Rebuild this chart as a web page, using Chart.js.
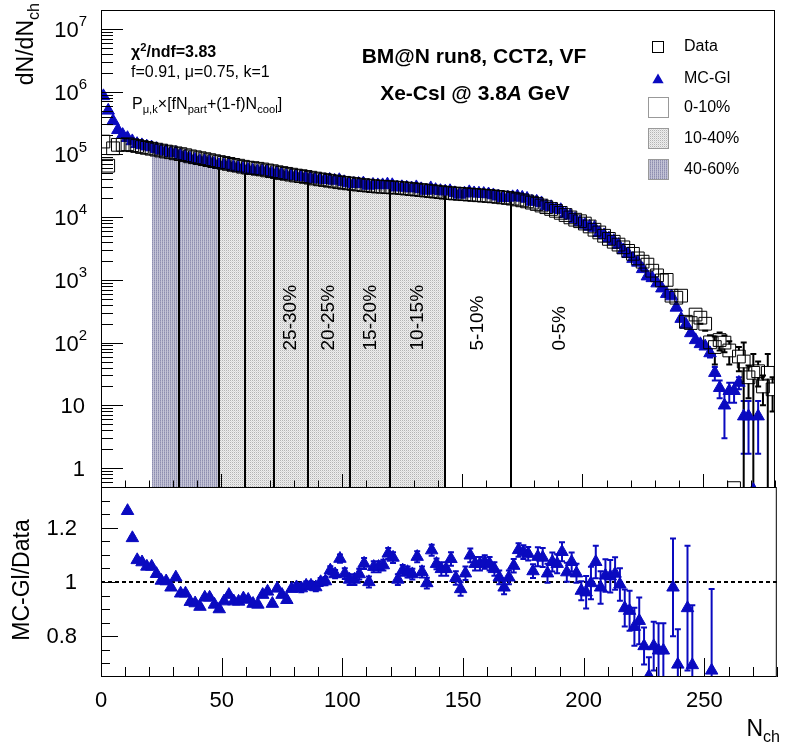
<!DOCTYPE html>
<html>
<head>
<meta charset="utf-8">
<script src="https://cdn.jsdelivr.net/npm/chart.js@4.4.1/dist/chart.umd.min.js"></script>
<style>
  body { margin: 0; background: #fff; }
  #wrap { position: relative; width: 785px; height: 744px; background: #fff; font-family: "Liberation Sans", Arial, Helvetica, sans-serif; overflow: hidden; }
  #wrap canvas { position: absolute; left: 0; top: 0; }
  .t { position: absolute; white-space: nowrap; line-height: 1; color: #000; }
  .t sub, .t sup { font-size: 70%; line-height: 0; }
  .rot { transform-origin: 0 0; transform: rotate(-90deg); }
</style>
</head>
<body>
<div id="wrap">
  <canvas id="main" width="785" height="744"></canvas>
  <canvas id="ratio" width="785" height="744"></canvas>

  <div class="t rot" style="font-size:23px; left:14px; top:155px; width:152px; text-align:right;">dN/dN<sub>ch</sub></div>
  <div class="t rot" style="font-size:23px; left:10px; top:680px; width:200px; text-align:center;">MC-Gl/Data</div>
  <div class="t" style="font-size:23px; right:5px; top:717px;">N<sub>ch</sub></div>

  <div class="t" style="font-size:21px; font-weight:bold; left:274px; width:400px; text-align:center; top:45px;">BM@N run8, CCT2, VF</div>
  <div class="t" style="font-size:21px; font-weight:bold; left:275px; width:400px; text-align:center; top:82px;">Xe-CsI @ 3.8<i>A</i> GeV</div>

  <div class="t" style="font-size:16px; font-weight:bold; left:131px; top:44px;">&chi;<sup>2</sup>/ndf=3.83</div>
  <div class="t" style="font-size:16px; left:131px; top:64px;">f=0.91, &mu;=0.75, k=1</div>
  <div class="t" style="font-size:16px; left:132px; top:96px;">P<sub>&mu;,k</sub>&times;[fN<sub>part</sub>+(1-f)N<sub>cool</sub>]</div>
</div>
<script>
// bin centres of N_ch (bin width 2)
const nch = [
  1, 3, 5, 7, 9, 11, 13, 15, 17, 19, 21, 23, 25, 27, 29, 31, 33, 35, 37, 39,
  41, 43, 45, 47, 49, 51, 53, 55, 57, 59, 61, 63, 65, 67, 69, 71, 73, 75, 77, 79,
  81, 83, 85, 87, 89, 91, 93, 95, 97, 99, 101, 103, 105, 107, 109, 111, 113, 115, 117, 119,
  121, 123, 125, 127, 129, 131, 133, 135, 137, 139, 141, 143, 145, 147, 149, 151, 153, 155, 157, 159,
  161, 163, 165, 167, 169, 171, 173, 175, 177, 179, 181, 183, 185, 187, 189, 191, 193, 195, 197, 199,
  201, 203, 205, 207, 209, 211, 213, 215, 217, 219, 221, 223, 225, 227, 229, 231, 233, 235, 237, 239,
  241, 243, 245, 247, 249, 251, 253, 255, 257, 259, 261, 263, 265, 267, 269, 271, 273, 275, 277, 279
];

// dN/dN_ch, experimental data
const dataVals = [
  160000, 66000, 125000, 142000, 142000, 145000, 140000, 136000, 131000, 127000,
  123000, 119000, 115000, 111000, 108000, 104000, 101000, 97000, 93000, 90000,
  87000, 84000, 81000, 78000, 75500, 73000, 70500, 68000, 66000, 63500,
  61500, 60500, 59000, 57500, 55500, 54000, 52000, 50500, 49000, 47500,
  46000, 45000, 43700, 42500, 41200, 40000, 39000, 38000, 37000, 36000,
  35200, 34500, 33700, 33000, 32400, 31800, 31200, 30700, 30500, 30100,
  29800, 29500, 29000, 28500, 28000, 27500, 27000, 26500, 26000, 25500,
  25000, 24500, 24100, 23800, 23500, 23200, 22900, 22600, 22300, 22000,
  21700, 21400, 21000, 20600, 20200, 19700, 19100, 18500, 17800, 17000,
  16200, 15300, 14400, 13500, 12600, 11700, 10800, 9900, 9100, 8600,
  7900, 7100, 6300, 5700, 5050, 4500, 4050, 3650, 3300, 2900,
  2600, 2200, 1950, 1750, 1400, 1180, 980, 1000, 560, 520,
  560, 215, 205, 280, 250, 200, 101, 85, 110, 100,
  75, 0.48, 60, 50, 28, 33, 35, 20, 33, 18
];
const dataErr = [
  0, 0, 0, 0, 0, 0, 0, 0, 0, 0, 0, 0, 0, 0, 0, 0, 0, 0, 0, 0,
  0, 0, 0, 0, 0, 0, 0, 0, 0, 0, 0, 0, 0, 0, 0, 0, 0, 0, 0, 0,
  0, 0, 0, 0, 0, 0, 0, 0, 0, 0, 0, 0, 0, 0, 0, 0, 0, 0, 0, 0,
  0, 0, 0, 0, 0, 0, 0, 0, 0, 0, 0, 0, 0, 0, 0, 0, 0, 0, 0, 0,
  0, 0, 0, 0, 0, 0, 0, 0, 0, 0, 0, 0, 0, 0, 0, 0, 0, 0, 0, 0,
  0, 0, 0, 0, 0, 0, 0, 0, 0, 0, 0, 0, 0, 0, 60, 60, 60, 70, 60, 60,
  70, 40, 40, 50, 50, 45, 30, 40, 35, 30, 30, 0, 25, 50, 15, 33, 15, 10, 33, 10
];

// dN/dN_ch, MC-Glauber
const mcVals = [
  850000, 500000, 340000, 245000, 205000, 183000, 162700, 147000, 140600, 134200,
  130000, 122600, 115600, 111300, 105800, 105800, 96800, 92900, 86200, 83000,
  79100, 79200, 76400, 71500, 68000, 67800, 67200, 63200, 61200, 59700,
  57500, 55700, 54100, 54800, 53600, 49700, 50800, 48100, 45800, 46300,
  45100, 44000, 43100, 41900, 40400, 40000, 39100, 39600, 38100, 39100,
  36300, 34800, 34000, 34000, 34600, 31800, 32900, 32400, 32400, 33300,
  32500, 29800, 30200, 29600, 28800, 30100, 28000, 26400, 29000, 27200,
  26200, 25700, 26100, 24200, 22900, 23900, 25100, 24100, 23800, 23600,
  23200, 22400, 21400, 20200, 20500, 20900, 21400, 20500, 19700, 17700,
  17700, 16700, 14900, 14500, 13400, 13000, 11200, 10600, 9390, 8320,
  7600, 7070, 6770, 5590, 5170, 4590, 4180, 3620, 2980, 2590,
  2170, 1890, 1490, 1140, 1070, 883, 733, 600, 549, 362,
  240, 194, 142, 110, 95, 87, 68, 33, 19, 10,
  17, 17, 23, 6.7, 6.7, 0.45, 6.7, null, null, null
];
const mcErr = [
  0, 0, 0, 0, 0, 0, 0, 0, 0, 0, 0, 0, 0, 0, 0, 0, 0, 0, 0, 0,
  0, 0, 0, 0, 0, 0, 0, 0, 0, 0, 0, 0, 0, 0, 0, 0, 0, 0, 0, 0,
  0, 0, 0, 0, 0, 0, 0, 0, 0, 0, 0, 0, 0, 0, 0, 0, 0, 0, 0, 0,
  0, 0, 0, 0, 0, 0, 0, 0, 0, 0, 0, 0, 0, 0, 0, 0, 0, 0, 0, 0,
  0, 0, 0, 0, 0, 0, 0, 0, 0, 0, 0, 0, 0, 0, 0, 0, 0, 0, 0, 0,
  0, 0, 0, 0, 0, 0, 0, 0, 0, 0, 0, 0, 0, 0, 0, 0, 0, 0, 0, 0,
  0, 0, 0, 0, 0, 0, 10, 8, 6, 7, 6, 6, 5, 5, 5, 0, 5, 0, 0, 0
];

// MC-Gl / Data ratio (null = outside the pad)
const ratioVals = [
  null, null, null, null, null, 1.262, 1.162, 1.081, 1.073, 1.057,
  1.057, 1.030, 1.005, 1.003, 0.980, 1.017, 0.958, 0.958, 0.927, 0.922,
  0.909, 0.943, 0.943, 0.917, 0.900, 0.929, 0.953, 0.929, 0.928, 0.940,
  0.935, 0.920, 0.917, 0.953, 0.965, 0.920, 0.976, 0.953, 0.934, 0.975,
  0.981, 0.977, 0.987, 0.987, 0.981, 1.000, 1.003, 1.043, 1.029, 1.086,
  1.031, 1.009, 1.009, 1.029, 1.068, 1.000, 1.056, 1.056, 1.062, 1.105,
  1.090, 1.009, 1.043, 1.037, 1.029, 1.093, 1.037, 0.996, 1.117, 1.067,
  1.048, 1.048, 1.085, 1.015, 0.974, 1.032, 1.098, 1.067, 1.067, 1.074,
  1.067, 1.048, 1.017, 0.980, 1.017, 1.060, 1.118, 1.110, 1.104, 1.040,
  1.093, 1.090, 1.032, 1.074, 1.067, 1.111, 1.036, 1.074, 1.032, 0.968,
  0.962, 0.996, 1.074, 0.980, 1.024, 1.021, 1.031, 0.991, 0.904, 0.894,
  0.835, 0.857, 0.764, 0.653, 0.764, 0.748, 0.748, null, 0.980, 0.696,
  null, 0.904, 0.694, null, null, null, 0.674, null, null, null,
  null, null, null, null, null, null, null, null, null, null
];
const ratioErr = [
  0, 0, 0, 0, 0, 0.006, 0.006, 0.006, 0.006, 0.006,
  0.006, 0.006, 0.006, 0.006, 0.006, 0.006, 0.006, 0.006, 0.006, 0.006,
  0.006, 0.006, 0.006, 0.006, 0.006, 0.006, 0.006, 0.006, 0.006, 0.006,
  0.006, 0.006, 0.006, 0.006, 0.006, 0.006, 0.006, 0.006, 0.006, 0.006,
  0.015, 0.015, 0.015, 0.015, 0.015, 0.015, 0.015, 0.015, 0.015, 0.015,
  0.02, 0.02, 0.02, 0.02, 0.02, 0.02, 0.02, 0.02, 0.02, 0.02,
  0.02, 0.02, 0.02, 0.02, 0.02, 0.02, 0.02, 0.02, 0.02, 0.02,
  0.025, 0.025, 0.025, 0.025, 0.025, 0.025, 0.025, 0.025, 0.025, 0.025,
  0.025, 0.025, 0.025, 0.025, 0.025, 0.025, 0.025, 0.025, 0.025, 0.025,
  0.035, 0.035, 0.035, 0.035, 0.035, 0.035, 0.035, 0.035, 0.035, 0.035,
  0.06, 0.06, 0.06, 0.06, 0.06, 0.06, 0.06, 0.06, 0.068, 0.074,
  0.07, 0.086, 0.068, 0.07, 0.09, 0.1, 0.1, 0, 0.18, 0.13,
  0, 0.23, 0.22, 0, 0, 0, 0.3, 0, 0, 0,
  0, 0, 0, 0, 0, 0, 0, 0, 0, 0
];

// centrality classes
const classEdges = [32.6, 49, 60, 72, 86, 103.3, 120, 143, 170.2];
const classLabels = ['25-30%', '20-25%', '15-20%', '10-15%', '5-10%', '0-5%'];
const classLabelN = [79, 94.7, 112, 131.5, 156.7, 190.6];
const shade4060 = [21, 49];
const shade1040 = [49, 143];

// axis ticks
const xTicks = [0, 50, 100, 150, 200, 250];
const yDecades = [0, 1, 2, 3, 4, 5, 6, 7];
const ratioTicks = [0.8, 1, 1.2];

const FONT = '"Liberation Sans", Arial, Helvetica, sans-serif';
const BLUE = '#0a0ac0';
const TRI = 7.2;

const pts = vals => nch.map((x, i) => (vals[i] == null ? null : { x, y: vals[i] })).filter(Boolean);

function makePattern(ctx, cells) {
  const c = document.createElement('canvas');
  c.width = 2; c.height = 2;
  const g = c.getContext('2d');
  cells.forEach((col, k) => { g.fillStyle = col; g.fillRect(k % 2, Math.floor(k / 2), 1, 1); });
  return ctx.createPattern(c, 'repeat');
}

function drawErrors(chart, vals, errs, color, gap) {
  const { ctx, chartArea: a, scales: { x, y } } = chart;
  ctx.save();
  ctx.beginPath();
  ctx.rect(a.left, a.top, a.right - a.left, a.bottom - a.top);
  ctx.clip();
  ctx.strokeStyle = color;
  ctx.lineWidth = 2;
  ctx.beginPath();
  vals.forEach((v, i) => {
    const e = errs[i];
    if (v == null || !e) return;
    const px = x.getPixelForValue(nch[i]);
    const cy = y.getPixelForValue(v);
    const hi = y.getPixelForValue(v + e);
    const lo = (y.type !== 'logarithmic' || v - e > 0) ? y.getPixelForValue(v - e) : a.bottom + 5;
    if (hi < cy - gap) {
      ctx.moveTo(px, cy - gap); ctx.lineTo(px, hi);
      ctx.moveTo(px - 3, hi); ctx.lineTo(px + 3, hi);
    }
    if (lo > cy + gap) {
      ctx.moveTo(px, cy + gap); ctx.lineTo(px, lo);
      ctx.moveTo(px - 3, lo); ctx.lineTo(px + 3, lo);
    }
  });
  ctx.stroke();
  ctx.restore();
}

function triangle(ctx, cx, cy, r) {
  ctx.beginPath();
  ctx.moveTo(cx, cy - r);
  ctx.lineTo(cx + r * 0.866, cy + r / 2);
  ctx.lineTo(cx - r * 0.866, cy + r / 2);
  ctx.closePath();
  ctx.fill();
}

let dense, light;

// centrality bands, boundaries and labels under the markers
const shadingPlugin = {
  id: 'shading',
  beforeDatasetsDraw(chart) {
    const { ctx, chartArea: a, scales: { x, y } } = chart;
    dense = dense || makePattern(ctx, ['#8e8eb0', '#c4c4d6', '#a4a4c0', '#c4c4d6']);
    light = light || makePattern(ctx, ['#b4b4b4', '#eeeeee', '#eeeeee', '#dadada']);
    ctx.save();
    [[shade4060, dense], [shade1040, light]].forEach(([range, pat]) => {
      ctx.fillStyle = pat;
      mcVals.forEach((v, i) => {
        if (v == null) return;
        const lo = Math.max(nch[i] - 1, range[0]);
        const hi = Math.min(nch[i] + 1, range[1]);
        if (hi <= lo) return;
        const x0 = Math.round(x.getPixelForValue(lo));
        const x1 = Math.round(x.getPixelForValue(hi));
        const top = Math.round(y.getPixelForValue(v));
        ctx.fillRect(x0, top, x1 - x0, a.bottom - top);
      });
    });
    ctx.strokeStyle = '#000';
    ctx.lineWidth = 2;
    ctx.beginPath();
    classEdges.forEach(n => {
      const v = mcVals[Math.floor(n / 2)];
      const px = Math.round(x.getPixelForValue(n));
      ctx.moveTo(px, a.bottom);
      ctx.lineTo(px, y.getPixelForValue(v));
    });
    ctx.stroke();
    ctx.fillStyle = '#000';
    ctx.font = `19px ${FONT}`;
    ctx.textAlign = 'left';
    ctx.textBaseline = 'middle';
    classLabels.forEach((t, i) => {
      ctx.save();
      ctx.translate(x.getPixelForValue(classLabelN[i]), y.getPixelForValue(75));
      ctx.rotate(-Math.PI / 2);
      ctx.fillText(t, 0, 0);
      ctx.restore();
    });
    ctx.restore();
    drawErrors(chart, mcVals, mcErr, BLUE, 0);
    drawErrors(chart, dataVals, dataErr, '#000', 6);
  }
};

// frame, inward ticks, labels and legend of the upper pad
const mainAxesPlugin = {
  id: 'mainAxes',
  afterDraw(chart) {
    const { ctx, chartArea: a, scales: { x, y } } = chart;
    ctx.save();
    ctx.strokeStyle = '#000';
    ctx.lineWidth = 1;
    ctx.strokeRect(a.left + 0.5, a.top + 0.5, a.right - a.left - 1, a.bottom - a.top);
    ctx.beginPath();
    for (let v = 0; v <= 280; v += 10) {
      const px = Math.round(x.getPixelForValue(v)) + 0.5;
      ctx.moveTo(px, a.bottom);
      ctx.lineTo(px, a.bottom - (v % 50 === 0 ? 13 : 6.5));
    }
    for (let d = -1; d <= 7; d++) {
      for (let m = 1; m <= 9; m++) {
        const v = m * Math.pow(10, d);
        if (v < y.min || v > y.max) continue;
        const py = Math.round(y.getPixelForValue(v)) + 0.5;
        ctx.moveTo(a.left, py);
        ctx.lineTo(a.left + (m === 1 ? 22 : 12), py);
      }
    }
    ctx.stroke();

    ctx.fillStyle = '#000';
    ctx.textBaseline = 'middle';
    yDecades.forEach(k => {
      const py = y.getPixelForValue(Math.pow(10, k)) + 2;
      if (k < 2) {
        ctx.font = `22px ${FONT}`;
        ctx.textAlign = 'right';
        ctx.fillText(k === 0 ? '1' : '10', 85, py);
      } else {
        ctx.font = `15px ${FONT}`;
        const sw = ctx.measureText(String(k)).width;
        ctx.textAlign = 'left';
        ctx.fillText(String(k), 87 - sw, py - 9);
        ctx.font = `22px ${FONT}`;
        ctx.textAlign = 'right';
        ctx.fillText('10', 87 - sw, py);
      }
    });

    // legend
    ctx.font = `16px ${FONT}`;
    ctx.textAlign = 'left';
    ctx.strokeRect(652.5, 41.5, 11, 11);
    ctx.fillText('Data', 684, 47);
    ctx.fillStyle = BLUE;
    triangle(ctx, 658, 80, 6.5);
    ctx.fillStyle = '#000';
    ctx.fillText('MC-Gl', 684, 79);
    [[97, '0-10%', null], [128, '10-40%', light], [159, '40-60%', dense]].forEach(([top, label, pat]) => {
      if (pat) { ctx.fillStyle = pat; ctx.fillRect(648, top, 21, 21); }
      ctx.strokeStyle = '#999';
      ctx.strokeRect(648.5, top + 0.5, 20, 20);
      ctx.fillStyle = '#000';
      ctx.fillText(label, 684, top + 11);
    });
    ctx.restore();
  }
};

// lower pad: reference line, errors, frame, ticks, labels
const ratioPlugin = {
  id: 'ratioAxes',
  beforeDatasetsDraw(chart) {
    const { ctx, chartArea: a, scales: { y } } = chart;
    ctx.save();
    ctx.strokeStyle = '#000';
    ctx.lineWidth = 2;
    ctx.setLineDash([4, 3]);
    const py = Math.round(y.getPixelForValue(1));
    ctx.beginPath();
    ctx.moveTo(a.left, py);
    ctx.lineTo(a.right, py);
    ctx.stroke();
    ctx.restore();
    drawErrors(chart, ratioVals, ratioErr, BLUE, 0);
  },
  afterDraw(chart) {
    const { ctx, chartArea: a, scales: { x, y } } = chart;
    ctx.save();
    ctx.strokeStyle = '#000';
    ctx.lineWidth = 1;
    ctx.strokeRect(a.left + 0.5, a.top + 0.5, a.right - a.left - 1, a.bottom - a.top - 1);
    ctx.beginPath();
    for (let v = 0; v <= 280; v += 10) {
      const px = Math.round(x.getPixelForValue(v)) + 0.5;
      ctx.moveTo(px, a.bottom);
      ctx.lineTo(px, a.bottom - (v % 50 === 0 ? 19 : 10));
    }
    for (let k = 14; k <= 26; k++) {
      const v = k * 0.05;
      const py = Math.round(y.getPixelForValue(v)) + 0.5;
      ctx.moveTo(a.left, py);
      ctx.lineTo(a.left + (k % 4 === 0 ? 17 : 9), py);
    }
    ctx.stroke();
    ctx.fillStyle = '#000';
    ctx.font = `22px ${FONT}`;
    ctx.textBaseline = 'middle';
    ctx.textAlign = 'right';
    ratioTicks.forEach(v => ctx.fillText(String(v), 77, y.getPixelForValue(v) + 1));
    ctx.textAlign = 'center';
    xTicks.forEach(v => ctx.fillText(String(v), x.getPixelForValue(v), 701));
    ctx.restore();
  }
};

const common = {
  responsive: false,
  animation: false,
  devicePixelRatio: 1,
  events: [],
  plugins: { legend: { display: false }, tooltip: { enabled: false } }
};

new Chart(document.getElementById('main'), {
  type: 'scatter',
  data: {
    datasets: [
      { label: 'Data', data: pts(dataVals), pointStyle: 'rect', pointRadius: 9, borderColor: '#000', borderWidth: 1, backgroundColor: 'rgba(0,0,0,0)', clip: 0 },
      { label: 'MC-Gl', data: pts(mcVals), pointStyle: 'triangle', pointRadius: TRI, borderColor: BLUE, borderWidth: 1, backgroundColor: BLUE, clip: 0 }
    ]
  },
  options: {
    ...common,
    layout: { padding: { left: 101, right: 5, top: 10, bottom: 257 } },
    scales: {
      x: { type: 'linear', min: 0, max: 280, display: false },
      y: { type: 'logarithmic', min: 0.5, max: 2e7, display: false }
    }
  },
  plugins: [shadingPlugin, mainAxesPlugin]
});

new Chart(document.getElementById('ratio'), {
  type: 'scatter',
  data: {
    datasets: [
      { label: 'MC-Gl/Data', data: pts(ratioVals), pointStyle: 'triangle', pointRadius: TRI, borderColor: BLUE, borderWidth: 1, backgroundColor: BLUE, clip: 0 }
    ]
  },
  options: {
    ...common,
    layout: { padding: { left: 101, right: 5, top: 487, bottom: 67 } },
    scales: {
      x: { type: 'linear', min: 0, max: 280, display: false },
      y: { type: 'linear', min: 0.65, max: 1.35, display: false }
    }
  },
  plugins: [ratioPlugin]
});
</script>
</body>
</html>
